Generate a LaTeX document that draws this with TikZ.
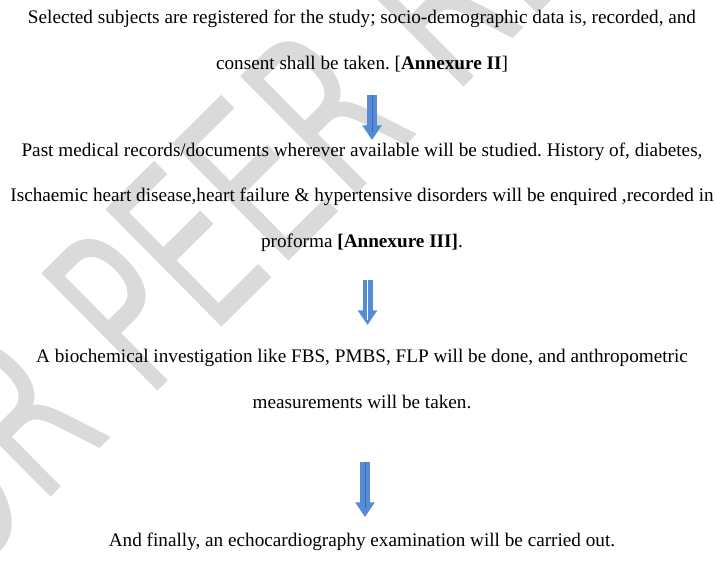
\documentclass[tikz,border=0pt]{standalone}
\usepackage{fontspec}
\setmainfont{Liberation Serif}
\newfontfamily\wmfont[FakeStretch=0.66]{DejaVu Sans}
\usetikzlibrary{arrows.meta}
\definecolor{arrowblue}{RGB}{84,141,212}
\definecolor{arrowline}{RGB}{58,105,175}
\definecolor{wmgray}{RGB}{218,218,218}
\tikzset{
  steptext/.style={anchor=center,inner sep=0.75pt,align=center,font=\fontsize{14.4}{34.1}\selectfont\frenchspacing},
  flowarrow/.style={color=arrowblue,line width=7.5pt,-{Triangle[width=14pt,length=11pt]}},
  midline/.style={color=arrowline,line width=0.5pt},
}

\begin{document}
\begin{tikzpicture}[x=0.75pt,y=0.75pt,yscale=-1,xscale=1]
\useasboundingbox (0,0) rectangle (716,564);
\clip (0,0) rectangle (716,564);
% Watermark
\draw (-105,651) node [anchor=base west,inner sep=0pt,rotate=44.7,text=wmgray,font=\wmfont\fontsize{170}{170}\selectfont] (wm) {FOR PEER REVIEW};
% Text Node
\draw (362,41) node [steptext] (reg) {Selected subjects are registered for the study; socio-demographic data is, recorded, and\\consent shall be taken. [\textbf{Annexure II}]};
% Text Node
\draw (362,197) node [steptext] (hist) {Past medical records/documents wherever available will be studied. History of, diabetes,\\Ischaemic heart disease,heart failure \& hypertensive disorders will be enquired ,recorded in\\proforma \textbf{[Annexure III]}.};
% Text Node
\draw (362,379) node [steptext] (bio) {A biochemical investigation like FBS, PMBS, FLP will be done, and anthropometric\\measurements will be taken.};
% Text Node
\draw (362,541.5) node [steptext] (echo) {And finally, an echocardiography examination will be carried out.};
% Arrows
\coordinate (a1s) at (372,95);
\coordinate (a1m) at (372,132);
\coordinate (a1e) at (372,140);
\coordinate (a2s) at (367.5,280);
\coordinate (a2m) at (367.5,320);
\coordinate (a2e) at (367.5,325);
\coordinate (a3s) at (365,462);
\coordinate (a3m) at (365,508);
\coordinate (a3e) at (365,517);
\draw [flowarrow] (a1s) -- (a1e);
\draw [midline] (a1s) -- (a1m);
\draw [flowarrow] (a2s) -- (a2e);
\draw [midline,white] (a2s) -- (a2m);
\draw [flowarrow] (a3s) -- (a3e);
\draw [midline] (a3s) -- (a3m);
\end{tikzpicture}
\end{document}
